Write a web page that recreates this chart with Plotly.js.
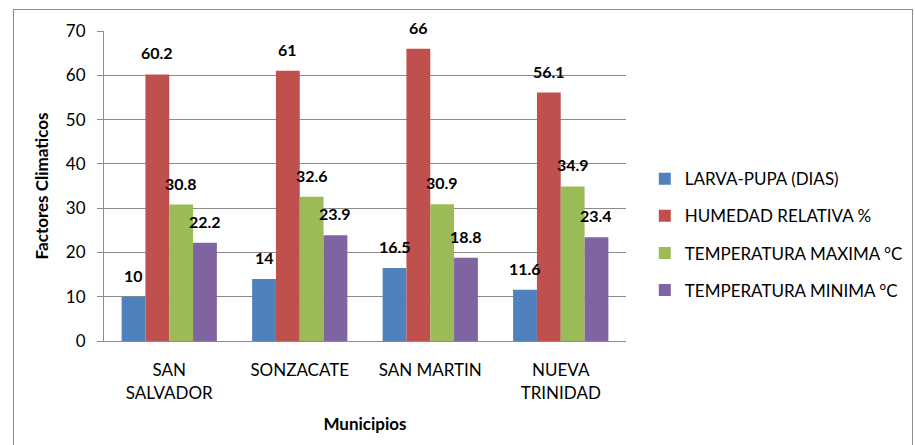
<!DOCTYPE html>
<html>
<head>
<meta charset="utf-8">
<script src="https://cdn.plot.ly/plotly-3.0.1.min.js"></script>
<style>
  body { margin: 0; background: #fff; }
  #frame { position: absolute; left: 13px; top: 9px; width: 898px; height: 440px; border: 1px solid #8c8c8c; }
  #chart { position: absolute; left: 0; top: 0; width: 915px; height: 445px; }
</style>
</head>
<body>
<div id="frame"></div>
<div id="chart"></div>
<script>
var municipios = ["SAN<br>SALVADOR", "SONZACATE", "SAN MARTIN", "NUEVA<br>TRINIDAD"];
var larvaPupa = [10, 14, 16.5, 11.6];
var humedad = [60.2, 61, 66, 56.1];
var tempMax = [30.8, 32.6, 30.9, 34.9];
var tempMin = [22.2, 23.9, 18.8, 23.4];

var names = ["LARVA-PUPA (DIAS)", "HUMEDAD RELATIVA %", "TEMPERATURA MAXIMA °C", "TEMPERATURA MINIMA °C"];
var colors = ["#4F81BD", "#C0504D", "#9BBB59", "#8064A2"];
var series = [larvaPupa, humedad, tempMax, tempMin];

var fontFam = "Lato, 'Open Sans', sans-serif";

// plot area is 522px wide, 4 groups, bargap 0.27 -> bar width in px
var bargap = 0.27;
var barW = (522 / municipios.length) * (1 - bargap) / series.length;

var data = [];
var labels = [];
for (var i = 0; i < series.length; i++) {
  data.push({
    type: "bar",
    x: municipios,
    y: series[i],
    name: names[i],
    legendgroup: "g" + i,
    marker: { color: colors[i] },
    hoverinfo: "none"
  });
  for (var j = 0; j < municipios.length; j++) {
    labels.push({
      x: municipios[j],
      y: series[i][j],
      xref: "x",
      yref: "y",
      text: String(series[i][j]),
      showarrow: false,
      xanchor: "center",
      yanchor: "bottom",
      xshift: (i - 1.5) * barW,
      yshift: 10,
      font: { family: fontFam, size: 16, color: "#000", weight: "bold" }
    });
  }
}

var layout = {
  width: 915,
  height: 445,
  paper_bgcolor: "rgba(0,0,0,0)",
  plot_bgcolor: "rgba(0,0,0,0)",
  margin: { l: 104, r: 289, t: 31, b: 104, autoexpand: false },
  barmode: "group",
  bargap: bargap,
  bargroupgap: 0,
  showlegend: true,
  annotations: labels,
  legend: {
    x: 1.036,
    y: 0.58,
    xanchor: "left",
    yanchor: "top",
    font: { family: fontFam, size: 17, color: "#000" },
    tracegroupgap: 12,
    itemwidth: 30
  },
  xaxis: {
    title: { text: "Municipios", font: { family: fontFam, size: 17, color: "#000", weight: "bold" }, standoff: 16 },
    tickfont: { family: fontFam, size: 17, color: "#000" },
    ticklabelstandoff: 14,
    automargin: false,
    showline: true,
    linecolor: "#8c8c8c",
    linewidth: 1,
    ticks: "",
    fixedrange: true
  },
  yaxis: {
    title: { text: "Factores Climaticos", font: { family: fontFam, size: 17, color: "#000", weight: "bold" }, standoff: 12 },
    range: [0, 70],
    dtick: 10,
    tickfont: { family: fontFam, size: 17, color: "#000" },
    ticklabelstandoff: 8,
    automargin: false,
    showgrid: true,
    gridcolor: "#8c8c8c",
    showline: true,
    linecolor: "#8c8c8c",
    ticks: "outside",
    ticklen: 6,
    tickcolor: "#8c8c8c",
    zeroline: false,
    fixedrange: true
  }
};

Plotly.newPlot("chart", data, layout, { displayModeBar: false, staticPlot: true });
</script>
</body>
</html>
